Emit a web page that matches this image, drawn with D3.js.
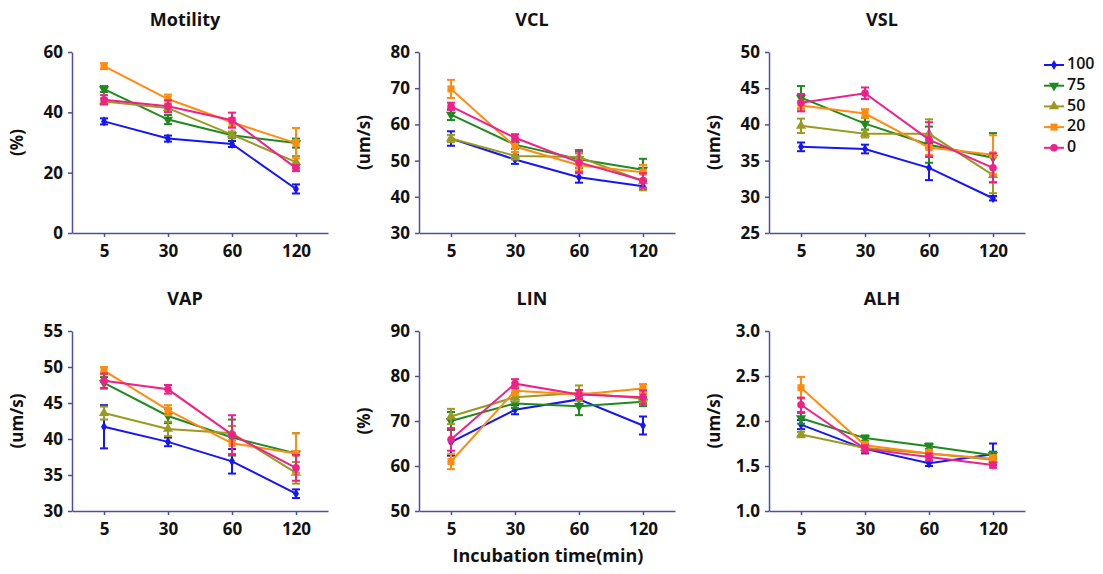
<!DOCTYPE html>
<html>
<head>
<meta charset="utf-8">
<script src="https://cdn.jsdelivr.net/npm/d3@7"></script>
<style>
  body { margin: 0; background: #fff; }
  svg { display: block; font-family: "Open Sans", "Noto Sans", sans-serif; }
</style>
</head>
<body>
<svg id="chart" width="1103" height="574"></svg>
<script>
// categories
const times = ['5', '30', '60', '120'];
const groups = ['100', '75', '50', '20', '0'];
const colors = ['#1515f5', '#1f8a1f', '#9a9a22', '#ff8c10', '#f0208a'];

// panel titles / axes
const titles = ['Motility', 'VCL', 'VSL', 'VAP', 'LIN', 'ALH'];
const yLabels = ['(%)', '(um/s)', '(um/s)', '(um/s)', '(%)', '(um/s)'];
const yDomains = [[0, 60], [30, 80], [25, 50], [30, 55], [50, 90], [1, 3]];
const yTicks = [
  [0, 20, 40, 60],
  [30, 40, 50, 60, 70, 80],
  [25, 30, 35, 40, 45, 50],
  [30, 35, 40, 45, 50, 55],
  [50, 60, 70, 80, 90],
  [1.0, 1.5, 2.0, 2.5, 3.0]
];

// means, rows = groups (100, 75, 50, 20, 0), cols = times
const motility = [[37.0, 31.3, 29.5, 14.6], [47.7, 37.6, 32.4, 29.8], [43.6, 41.4, 32.6, 23.5], [55.3, 44.4, 36.7, 29.8], [44.2, 42.0, 37.4, 21.5]];
const motilityErr = [[1, 1, 1, 1.5], [1, 1.5, 1, 1.5], [1, 1, 1, 2], [1, 1.5, 1.5, 5], [1.5, 2, 2.5, 1]];
const vcl = [[56.1, 50.3, 45.4, 42.9], [62.7, 54.4, 50.4, 47.5], [56.1, 51.3, 51.0, 44.3], [69.8, 53.9, 48.7, 46.8], [65.0, 56.3, 49.5, 44.5]];
const vclErr = [[2, 1.2, 1.5, 1], [1.5, 1.2, 2.5, 3], [1, 1, 1, 2.5], [2.5, 1.5, 1.5, 2], [1, 1, 3, 2]];
const vsl = [[36.9, 36.6, 34.0, 29.8], [43.7, 40.1, 37.2, 35.4], [39.8, 38.7, 38.7, 33.0], [42.6, 41.5, 36.8, 35.8], [43.0, 44.3, 37.9, 34.0]];
const vslErr = [[0.6, 0.6, 1.7, 0.3], [1.6, 0.8, 2.5, 3.4], [1, 0.5, 2, 2.5], [0.6, 0.6, 1, 2.7], [1.2, 0.8, 2.4, 2]];
const vap = [[41.7, 39.6, 36.9, 32.4], [47.8, 43.2, 40.2, 38.0], [43.6, 41.4, 40.8, 35.3], [49.5, 44.0, 39.4, 38.0], [48.1, 46.9, 40.6, 36.0]];
const vapErr = [[3, 0.6, 1.7, 0.6], [0.8, 1, 2.5, 2.8], [0.9, 1, 1, 1.5], [0.5, 0.7, 1.5, 2.8], [1, 0.6, 2.7, 1.8]];
const lin = [[65.3, 72.5, 74.8, 69.0], [70.0, 73.9, 73.3, 74.3], [71.0, 75.3, 76.2, 75.0], [61.0, 76.7, 75.9, 77.2], [65.9, 78.3, 75.9, 75.3]];
const linErr = [[3, 1, 1, 2], [2, 1, 2, 1], [1.7, 1, 1.7, 1], [1.7, 1, 1, 1], [2.5, 1, 1, 1.5]];
const alh = [[1.96, 1.69, 1.53, 1.63], [2.03, 1.81, 1.72, 1.62], [1.85, 1.70, 1.64, 1.57], [2.37, 1.73, 1.64, 1.58], [2.18, 1.69, 1.60, 1.51]];
const alhErr = [[0.05, 0.05, 0.03, 0.12], [0.06, 0.03, 0.03, 0.04], [0.03, 0.03, 0.03, 0.03], [0.12, 0.04, 0.04, 0.04], [0.08, 0.04, 0.04, 0.03]];

const means = [motility, vcl, vsl, vap, lin, alh];
const errs = [motilityErr, vclErr, vslErr, vapErr, linErr, alhErr];

const axisColor = '#4f4f9e';
const colX = [72, 419, 769];
const rowY = [[52, 233], [331, 511]];
const plotW = 256;

const svg = d3.select('#chart');

const symbols = [
  d3.symbol().type(d3.symbolDiamond).size(30),
  d3.symbol().type(d3.symbolTriangle).size(45),
  d3.symbol().type(d3.symbolTriangle).size(45),
  d3.symbol().type(d3.symbolSquare).size(50),
  d3.symbol().type(d3.symbolCircle).size(45)
];
const symRotate = [0, 180, 0, 0, 0];

titles.forEach((title, p) => {
  const left = colX[p % 3];
  const [top, bottom] = rowY[Math.floor(p / 3)];

  const x = d3.scalePoint().domain(times).range([left, left + plotW]).padding(0.5);
  const y = d3.scaleLinear().domain(yDomains[p]).range([bottom, top]);

  const g = svg.append('g');

  // title
  g.append('text')
    .attr('x', left + plotW / 2 - 15)
    .attr('y', top - 26)
    .attr('text-anchor', 'middle')
    .attr('font-size', 18)
    .attr('font-weight', 700)
    .attr('fill', '#111')
    .text(title);

  // axes
  const fmt = p === 5 ? d3.format('.1f') : d3.format('d');
  const yAxis = g.append('g')
    .attr('transform', `translate(${left},0)`)
    .call(d3.axisLeft(y).tickValues(yTicks[p]).tickFormat(fmt).tickSize(4).tickSizeOuter(0).tickPadding(5));
  const xAxis = g.append('g')
    .attr('transform', `translate(0,${bottom})`)
    .call(d3.axisBottom(x).tickSize(4).tickSizeOuter(0).tickPadding(8));

  [yAxis, xAxis].forEach(a => {
    a.select('.domain').attr('stroke', axisColor).attr('stroke-width', 1.5);
    a.selectAll('.tick line').attr('stroke', axisColor).attr('stroke-width', 1.5);
    a.selectAll('.tick text')
      .attr('font-size', 17)
      .attr('font-weight', 700)
      .attr('fill', '#111')
      .style('font-family', '"Open Sans", "Noto Sans", sans-serif');
  });

  // y label
  g.append('text')
    .attr('transform', `translate(${left - 54},${(top + bottom) / 2}) rotate(-90)`)
    .attr('text-anchor', 'middle')
    .attr('dominant-baseline', 'middle')
    .attr('font-size', 17)
    .attr('font-weight', 700)
    .attr('fill', '#111')
    .text(yLabels[p]);

  const line = d3.line().x((d, i) => x(times[i])).y(d => y(d));

  groups.forEach((grp, k) => {
    const vals = means[p][k];
    const ers = errs[p][k];
    const c = colors[k];
    const sg = g.append('g');

    sg.append('path')
      .datum(vals)
      .attr('d', line)
      .attr('fill', 'none')
      .attr('stroke', c)
      .attr('stroke-width', 2);

    // error bars
    vals.forEach((v, i) => {
      const cx = x(times[i]);
      const y1 = y(v - ers[i]), y2 = y(v + ers[i]);
      sg.append('line').attr('x1', cx).attr('x2', cx).attr('y1', y1).attr('y2', y2)
        .attr('stroke', c).attr('stroke-width', 2);
      [y1, y2].forEach(yy => {
        sg.append('line').attr('x1', cx - 4).attr('x2', cx + 4).attr('y1', yy).attr('y2', yy)
          .attr('stroke', c).attr('stroke-width', 2);
      });
    });

    sg.selectAll('path.mark')
      .data(vals)
      .enter()
      .append('path')
      .attr('class', 'mark')
      .attr('d', symbols[k])
      .attr('transform', (d, i) => `translate(${x(times[i])},${y(d)}) rotate(${symRotate[k]})`)
      .attr('fill', c);
  });
});

// shared x label
svg.append('text')
  .attr('x', 548)
  .attr('y', 562)
  .attr('text-anchor', 'middle')
  .attr('font-size', 18)
  .attr('font-weight', 700)
  .attr('fill', '#111')
  .text('Incubation time(min)');

// legend
const legend = svg.append('g');
groups.forEach((grp, k) => {
  const ly = 65 + k * 20.7;
  const lg = legend.append('g');
  lg.append('line').attr('x1', 1044).attr('x2', 1064).attr('y1', ly).attr('y2', ly)
    .attr('stroke', colors[k]).attr('stroke-width', 2);
  lg.append('path').attr('d', symbols[k])
    .attr('transform', `translate(1054,${ly}) rotate(${symRotate[k]})`)
    .attr('fill', colors[k]);
  lg.append('text').attr('x', 1067).attr('y', ly).attr('dominant-baseline', 'middle')
    .attr('font-size', 16).attr('font-weight', 600).attr('fill', '#111')
    .text(grp);
});
</script>
</body>
</html>
